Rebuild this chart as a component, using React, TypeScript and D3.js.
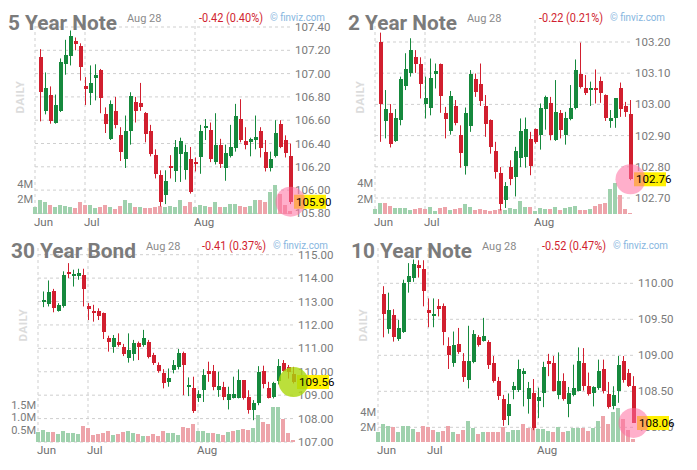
import * as d3 from "d3";

// four futures panels, daily candles Jun..Aug 28; candle i sits at slot i+1 (slot 0 has volume only)
const titles = ["5 Year Note", "2 Year Note", "30 Year Bond", "10 Year Note"];
const dateLabel = "Aug 28";
const changes = ["-0.42 (0.40%)", "-0.22 (0.21%)", "-0.41 (0.37%)", "-0.52 (0.47%)"];
const months = ["Jun", "Jul", "Aug"];
const monthSlots = [0, 10, 32];

const fiveYearTicks = [107.4, 107.2, 107.0, 106.8, 106.6, 106.4, 106.2, 106.0, 105.8];
const twoYearTicks = [103.2, 103.1, 103.0, 102.9, 102.8, 102.7];
const thirtyYearTicks = [115, 114, 113, 112, 111, 110, 109, 108, 107];
const tenYearTicks = [110.0, 109.5, 109.0, 108.5, 108.0];

const millionTicks = [2, 4];
const bondVolTicks = [0.5, 1.0, 1.5];

// [open, high, low, close]
const fiveYearOHLC: number[][] = [
  [107.14, 107.21, 106.59, 106.84], [106.68, 107.01, 106.65, 106.88], [106.82, 106.89, 106.57, 106.59],
  [106.58, 106.82, 106.57, 106.73], [106.68, 107.13, 106.67, 107.1], [107.08, 107.29, 106.99, 107.16],
  [107.15, 107.37, 107.07, 107.32], [107.28, 107.31, 107.2, 107.25], [107.24, 107.26, 106.94, 107.06],
  [106.89, 106.97, 106.73, 106.87], [106.83, 107.07, 106.73, 106.92], [106.96, 107.08, 106.77, 106.99],
  [107.03, 107.04, 106.66, 106.79], [106.65, 106.71, 106.49, 106.57], [106.44, 106.77, 106.43, 106.74],
  [106.68, 106.8, 106.53, 106.56], [106.47, 106.54, 106.25, 106.33], [106.27, 106.64, 106.19, 106.51],
  [106.51, 106.84, 106.39, 106.81], [106.76, 106.8, 106.58, 106.68], [106.75, 106.92, 106.68, 106.71],
  [106.66, 106.67, 106.41, 106.48], [106.51, 106.56, 106.29, 106.31], [106.3, 106.35, 106.1, 106.14],
  [106.13, 106.17, 105.86, 105.9], [105.96, 106.17, 105.88, 106.08], [106.21, 106.3, 106.1, 106.19],
  [106.16, 106.43, 106.07, 106.37], [106.31, 106.45, 106.07, 106.42], [106.17, 106.39, 106.09, 106.33],
  [106.27, 106.37, 105.97, 105.98], [106.24, 106.28, 106.16, 106.22], [106.28, 106.56, 106.14, 106.51],
  [106.53, 106.61, 106.43, 106.55], [106.52, 106.58, 106.24, 106.27], [106.24, 106.66, 106.22, 106.39],
  [106.39, 106.44, 106.19, 106.22], [106.19, 106.39, 106.08, 106.32], [106.29, 106.56, 106.28, 106.37],
  [106.36, 106.74, 106.33, 106.64], [106.61, 106.78, 106.41, 106.43], [106.42, 106.54, 106.35, 106.39],
  [106.41, 106.45, 106.29, 106.44], [106.43, 106.64, 106.35, 106.46], [106.51, 106.54, 106.28, 106.36],
  [106.33, 106.43, 106.16, 106.19], [106.19, 106.33, 106.16, 106.27], [106.29, 106.6, 106.28, 106.49],
  [106.57, 106.6, 106.36, 106.37], [106.43, 106.47, 106.28, 106.32], [106.29, 106.4, 105.88, 105.9],
];
const fiveYearVolume = [
  0.9, 1.9, 1.6, 1.2, 0.9, 1.2, 1.1, 1.0, 0.8, 1.6, 1.2, 1.2, 0.8, 1.0, 1.2, 0.9, 0.7, 1.1, 1.9, 1.5,
  0.9, 1.0, 0.8, 0.8, 1.0, 1.1, 0.9, 1.1, 1.0, 1.9, 1.1, 1.6, 0.9, 1.2, 1.1, 1.0, 1.6, 0.9, 0.9, 1.4,
  1.4, 1.1, 0.9, 1.1, 1.9, 1.9, 1.6, 2.9, 3.9, 2.7, 1.2, 0.4,
];

const twoYearOHLC: number[][] = [
  [103.199, 103.23, 102.88, 103.001], [102.947, 103.046, 102.891, 102.985], [102.971, 103.001, 102.862, 102.874],
  [102.882, 102.985, 102.88, 102.958], [102.949, 103.089, 102.933, 103.08], [103.06, 103.164, 103.046, 103.113],
  [103.101, 103.212, 103.089, 103.174], [103.151, 103.174, 103.101, 103.128], [103.129, 103.151, 103.019, 103.065],
  [103.001, 103.089, 102.955, 103.019], [102.989, 103.147, 102.965, 103.086], [103.098, 103.131, 103.051, 103.107],
  [103.128, 103.131, 102.973, 103.028], [102.973, 102.992, 102.891, 102.953], [102.915, 103.043, 102.903, 103.027],
  [102.994, 103.014, 102.933, 102.941], [102.903, 102.933, 102.797, 102.844], [102.802, 102.99, 102.775, 102.973],
  [102.93, 103.11, 102.912, 103.099], [103.081, 103.099, 103.024, 103.04], [103.065, 103.131, 102.995, 103.011],
  [102.995, 103.03, 102.896, 102.937], [102.949, 102.952, 102.842, 102.862], [102.851, 102.88, 102.762, 102.783],
  [102.78, 102.799, 102.66, 102.682], [102.692, 102.751, 102.668, 102.738], [102.799, 102.821, 102.741, 102.762],
  [102.767, 102.864, 102.705, 102.85], [102.828, 102.955, 102.799, 102.915], [102.832, 102.958, 102.797, 102.92],
  [102.888, 102.912, 102.773, 102.803], [102.92, 102.923, 102.874, 102.88], [102.903, 103.003, 102.855, 102.99],
  [102.985, 103.028, 102.919, 103.024], [103.005, 103.024, 102.885, 102.903], [102.885, 103.078, 102.883, 102.976],
  [102.971, 102.982, 102.891, 102.919], [102.903, 102.976, 102.871, 102.955], [102.952, 103.062, 102.949, 102.99],
  [102.987, 103.144, 102.984, 103.11], [103.099, 103.198, 103.051, 103.056], [103.051, 103.094, 103.03, 103.037],
  [103.046, 103.073, 102.995, 103.053], [103.054, 103.112, 103.003, 103.046], [103.075, 103.089, 103.005, 103.037],
  [103.03, 103.032, 102.947, 102.955], [102.947, 102.982, 102.925, 102.955], [102.955, 103.019, 102.925, 103.019],
  [103.053, 103.07, 102.96, 102.984], [102.994, 103.008, 102.96, 102.976], [102.968, 103.014, 102.757, 102.76],
];
const twoYearVolume = [
  0.65, 1.4, 1.4, 1.1, 0.75, 0.75, 0.8, 0.5, 0.6, 0.8, 0.6, 0.95, 0.45, 0.75, 0.85, 0.5, 0.65, 0.75, 1.3, 0.95,
  0.5, 0.65, 0.5, 0.45, 0.5, 0.65, 0.5, 0.75, 0.6, 1.7, 0.85, 0.95, 0.4, 0.75, 0.65, 0.65, 0.95, 0.5, 0.75, 0.95,
  1.1, 0.5, 0.5, 0.65, 1.1, 1.25, 1.4, 3.3, 4.0, 2.5, 0.65, 0.15,
];

const thirtyYearOHLC: number[][] = [
  [112.96, 113.43, 112.76, 113.07], [112.9, 113.9, 112.79, 113.4], [113.47, 113.54, 112.54, 112.74],
  [112.61, 112.93, 112.57, 112.86], [112.83, 114.29, 112.74, 114.14], [114.26, 114.64, 114.0, 114.17],
  [114.1, 114.36, 113.64, 114.19], [114.11, 114.4, 113.93, 114.21], [114.14, 114.4, 112.79, 113.54],
  [112.81, 112.93, 112.21, 112.7], [112.61, 112.86, 112.14, 112.5], [112.6, 112.71, 112.21, 112.4],
  [112.5, 112.53, 111.4, 111.69], [111.43, 111.54, 110.86, 111.26], [111.07, 111.57, 110.81, 111.43],
  [111.27, 111.64, 111.07, 111.14], [111.04, 111.19, 110.67, 110.74], [110.6, 111.64, 110.39, 110.93],
  [110.76, 111.36, 110.47, 111.21], [111.21, 111.29, 110.5, 111.04], [111.14, 111.79, 111.07, 111.43],
  [111.26, 111.36, 110.57, 110.61], [110.71, 110.81, 110.29, 110.39], [110.29, 110.4, 109.96, 110.04],
  [109.96, 110.11, 109.29, 109.5], [109.57, 110.14, 109.36, 109.74], [110.07, 110.5, 109.93, 110.29],
  [110.19, 110.97, 110.1, 110.81], [110.81, 110.86, 109.0, 110.29], [109.33, 109.76, 108.96, 109.43],
  [109.31, 109.79, 108.24, 108.31], [108.89, 109.21, 108.71, 109.07], [109.21, 110.11, 108.71, 109.86],
  [110.03, 110.43, 109.57, 109.9], [110.03, 110.29, 109.21, 109.36], [109.21, 110.0, 108.93, 109.39],
  [109.36, 109.57, 108.79, 108.93], [108.81, 109.36, 108.39, 109.07], [108.9, 109.79, 108.86, 109.04],
  [108.86, 110.1, 108.86, 109.64], [109.64, 109.64, 108.81, 108.86], [108.93, 109.21, 108.21, 108.36],
  [108.36, 108.79, 107.93, 108.67], [108.67, 110.24, 108.57, 110.0], [110.03, 110.26, 109.29, 109.46],
  [109.31, 109.57, 108.86, 108.89], [108.93, 109.57, 108.86, 109.53], [109.6, 110.54, 109.46, 110.24],
  [110.39, 110.5, 110.0, 110.03], [110.21, 110.29, 109.71, 109.97], [109.9, 110.21, 109.5, 109.56],
];
const thirtyYearVolume = [
  0.42, 0.49, 0.42, 0.39, 0.31, 0.45, 0.38, 0.35, 0.31, 0.65, 0.55, 0.28, 0.31, 0.38, 0.45, 0.28, 0.31, 0.42, 0.45, 0.35,
  0.31, 0.26, 0.26, 0.31, 0.26, 0.45, 0.35, 0.38, 0.28, 0.62, 0.58, 0.73, 0.45, 0.45, 0.38, 0.35, 0.31, 0.28, 0.42, 0.45,
  0.49, 0.53, 0.49, 0.55, 1.09, 0.82, 0.73, 1.43, 1.43, 0.92, 0.35, 0.08,
];

const tenYearOHLC: number[][] = [
  [109.85, 109.96, 109.25, 109.57], [109.36, 109.87, 109.3, 109.63], [109.56, 109.64, 109.19, 109.25],
  [109.23, 109.49, 109.2, 109.38], [109.33, 110.05, 109.31, 110.01], [110.02, 110.28, 109.87, 110.1],
  [110.08, 110.33, 110.02, 110.27], [110.25, 110.32, 110.08, 110.21], [110.2, 110.32, 109.68, 109.9],
  [109.63, 109.79, 109.39, 109.59], [109.55, 109.79, 109.39, 109.58], [109.68, 109.78, 109.54, 109.64],
  [109.68, 109.72, 109.14, 109.33], [109.13, 109.25, 108.81, 109.01], [108.9, 109.33, 108.84, 109.14],
  [109.16, 109.38, 109.02, 109.04], [108.92, 109.03, 108.63, 108.7], [108.66, 109.41, 108.54, 108.92],
  [108.91, 109.35, 108.89, 109.3], [109.25, 109.28, 109.12, 109.14], [109.2, 109.52, 109.19, 109.27],
  [109.18, 109.21, 108.81, 108.87], [108.9, 108.99, 108.62, 108.65], [108.64, 108.7, 108.38, 108.43],
  [108.4, 108.45, 108.02, 108.1], [108.16, 108.47, 108.03, 108.32], [108.52, 108.63, 108.39, 108.57],
  [108.52, 108.94, 108.49, 108.81], [108.74, 108.82, 108.29, 108.78], [108.39, 108.63, 108.19, 108.54],
  [108.47, 108.67, 107.96, 107.99], [108.36, 108.55, 108.13, 108.42], [108.47, 108.91, 108.28, 108.84],
  [108.92, 109.02, 108.71, 108.88], [108.89, 108.99, 108.5, 108.51], [108.45, 109.04, 108.39, 108.64],
  [108.64, 108.75, 108.37, 108.39], [108.32, 108.56, 108.14, 108.47], [108.45, 108.87, 108.43, 108.54],
  [108.51, 109.11, 108.5, 108.92], [108.89, 109.1, 108.51, 108.57], [108.57, 108.76, 108.44, 108.46],
  [108.47, 108.57, 108.29, 108.56], [108.54, 108.94, 108.52, 108.78], [108.81, 108.94, 108.47, 108.51],
  [108.46, 108.63, 108.26, 108.28], [108.29, 108.57, 108.25, 108.45], [108.5, 108.99, 108.34, 108.87],
  [108.92, 108.99, 108.62, 108.66], [108.75, 108.81, 108.56, 108.58], [108.57, 108.71, 108.06, 108.06],
];
const tenYearVolume = [
  1.4, 2.45, 2.1, 2.0, 1.3, 2.2, 2.1, 1.8, 1.3, 2.2, 2.0, 1.6, 1.3, 1.5, 2.2, 1.3, 1.05, 1.6, 2.8, 1.9,
  1.05, 1.3, 1.3, 1.4, 1.3, 2.0, 1.4, 1.6, 1.6, 2.45, 1.9, 1.9, 1.7, 1.7, 1.5, 1.4, 2.0, 1.3, 1.5, 1.9,
  1.9, 1.9, 1.5, 1.9, 2.8, 3.45, 2.45, 4.0, 4.6, 3.1, 1.6, 0.35,
];

const GREEN = "#16893d";
const RED = "#d11f2f";
const VOL_GREEN = "#9fd1ad";
const VOL_RED = "#eda4aa";
const FONT = "Roboto, sans-serif";

interface PanelProps {
  ox: number;
  oy: number;
  title: string;
  titleWidth: number;
  change: string;
  ohlc: number[][];
  volume: number[];
  priceTicks: number[];
  priceRange: [number, number];
  volTicks: number[];
  volTop: number;
  volLabel: (v: number) => string;
  circleFill: string;
}

function Panel(p: PanelProps) {
  const x = d3.scaleLinear().domain([0, 51]).range([27, 282]);
  const pMin = d3.min(p.priceTicks)!;
  const pMax = d3.max(p.priceTicks)!;
  const y = d3.scaleLinear().domain([pMin, pMax]).range(p.priceRange);
  const vMax = d3.max(p.volTicks)!;
  const yv = d3.scaleLinear().domain([0, vMax]).range([214, p.volTop]);
  const last = p.ohlc[p.ohlc.length - 1];
  const lastX = x(p.ohlc.length);
  const lastY = y(last[3]);
  const closeAt = (i: number) => (i >= 1 ? p.ohlc[i - 1][3] : null);

  return (
    <g transform={`translate(${p.ox},${p.oy})`}>
      {p.priceTicks.map((t) => (
        <line key={"h" + t} x1={27} x2={285} y1={y(t)} y2={y(t)} stroke="#cfcfcf" strokeDasharray="3 3" />
      ))}
      {monthSlots.map((s) => (
        <line key={"v" + s} x1={x(s)} x2={x(s)} y1={20} y2={214} stroke="#cfcfcf" strokeDasharray="3 3" />
      ))}
      {p.volume.map((v, i) => {
        const c = closeAt(i);
        const prev = closeAt(i - 1);
        const up = c === null || prev === null || c >= prev;
        return (
          <rect key={"vol" + i} x={x(i) - 2} width={4} y={yv(v)} height={214 - yv(v)} fill={up ? VOL_GREEN : VOL_RED} shapeRendering="crispEdges" />
        );
      })}
      {p.ohlc.map(([o, h, l, c], k) => {
        const cx = x(k + 1);
        const col = c >= o ? GREEN : RED;
        const top = y(Math.max(o, c));
        const bot = y(Math.min(o, c));
        return (
          <g key={"c" + k}>
            <line x1={cx + 0.5} x2={cx + 0.5} y1={y(h)} y2={y(l)} stroke={col} strokeWidth={1} />
            <rect x={cx - 1.5} width={4} y={top} height={Math.max(bot - top, 2)} fill={col} shapeRendering="crispEdges" />
          </g>
        );
      })}
      {p.priceTicks.map((t) => (
        <text key={"pt" + t} x={287} y={y(t)} dy="0.35em" fontSize={11.5} fill="#7a7a7a" fontFamily={FONT}>
          {t.toFixed(2)}
        </text>
      ))}
      {p.volTicks.map((t) => (
        <text key={"vt" + t} x={25} y={yv(t)} dy="0.35em" fontSize={11} fill="#7a7a7a" fontFamily={FONT} textAnchor="end">
          {p.volLabel(t)}
        </text>
      ))}
      {months.map((m, j) => (
        <text key={m} x={x(monthSlots[j]) - 1} y={226} fontSize={11.5} fill="#6e6e6e" fontFamily={FONT}>
          {m}
        </text>
      ))}
      <rect x={286} y={lastY - 7} width={32} height={14} fill="#fff000" />
      <circle cx={lastX + 0.5} cy={lastY} r={15} fill={p.circleFill} />
      <text x={288} y={lastY} dy="0.36em" fontSize={11.5} fill="#000" fontFamily={FONT}>
        {last[3].toFixed(2)}
      </text>
      <text
        transform="translate(16,97) rotate(-90)"
        textAnchor="middle"
        fontSize={11.5}
        fontWeight="bold"
        fill="#dcdcdc"
        fontFamily={FONT}
        letterSpacing={0.5}
      >
        DAILY
      </text>
      <text x={0} y={30} fontSize={21} fontWeight="bold" fill="#7b7b7b" fontFamily={FONT} textLength={p.titleWidth} lengthAdjust="spacingAndGlyphs">
        {p.title}
      </text>
      <text x={p.titleWidth + 10} y={22} fontSize={11} fill="#8a8a8a" fontFamily={FONT}>
        {dateLabel}
      </text>
      <text x={191} y={21.5} fontSize={12} fill={RED} fontFamily={FONT} textLength={64} lengthAdjust="spacingAndGlyphs">
        {p.change}
      </text>
      <text x={262} y={21} fontSize={11} fill="#86b6e0" fontFamily={FONT} textLength={55} lengthAdjust="spacingAndGlyphs">
        © finviz.com
      </text>
    </g>
  );
}

const fmtM = (v: number) => `${v}M`;
const fmtM1 = (v: number) => `${v.toFixed(1)}M`;

export default function App() {
  return (
    <svg width={697} height={470} style={{ position: "absolute", left: 0, top: 0, background: "#fff" }}>
      <rect width={697} height={470} fill="#fff" />
      <Panel ox={8} oy={0} title={titles[0]} titleWidth={109} change={changes[0]} ohlc={fiveYearOHLC} volume={fiveYearVolume}
        priceTicks={fiveYearTicks} priceRange={[213.4, 27]} volTicks={millionTicks} volTop={184} volLabel={fmtM} circleFill="rgba(255,110,160,0.55)" />
      <Panel ox={348} oy={0} title={titles[1]} titleWidth={109} change={changes[1]} ohlc={twoYearOHLC} volume={twoYearVolume}
        priceTicks={twoYearTicks} priceRange={[198, 42]} volTicks={millionTicks} volTop={183.4} volLabel={fmtM} circleFill="rgba(255,110,160,0.55)" />
      <Panel ox={11} oy={228} title={titles[2]} titleWidth={125} change={changes[2]} ohlc={thirtyYearOHLC} volume={thirtyYearVolume}
        priceTicks={thirtyYearTicks} priceRange={[214, 26.7]} volTicks={bondVolTicks} volTop={177} volLabel={fmtM1} circleFill="rgba(170,215,10,0.8)" />
      <Panel ox={351} oy={228} title={titles[3]} titleWidth={121} change={changes[3]} ohlc={tenYearOHLC} volume={tenYearVolume}
        priceTicks={tenYearTicks} priceRange={[199.3, 55.3]} volTicks={millionTicks} volTop={184} volLabel={fmtM} circleFill="rgba(255,110,160,0.55)" />
    </svg>
  );
}
